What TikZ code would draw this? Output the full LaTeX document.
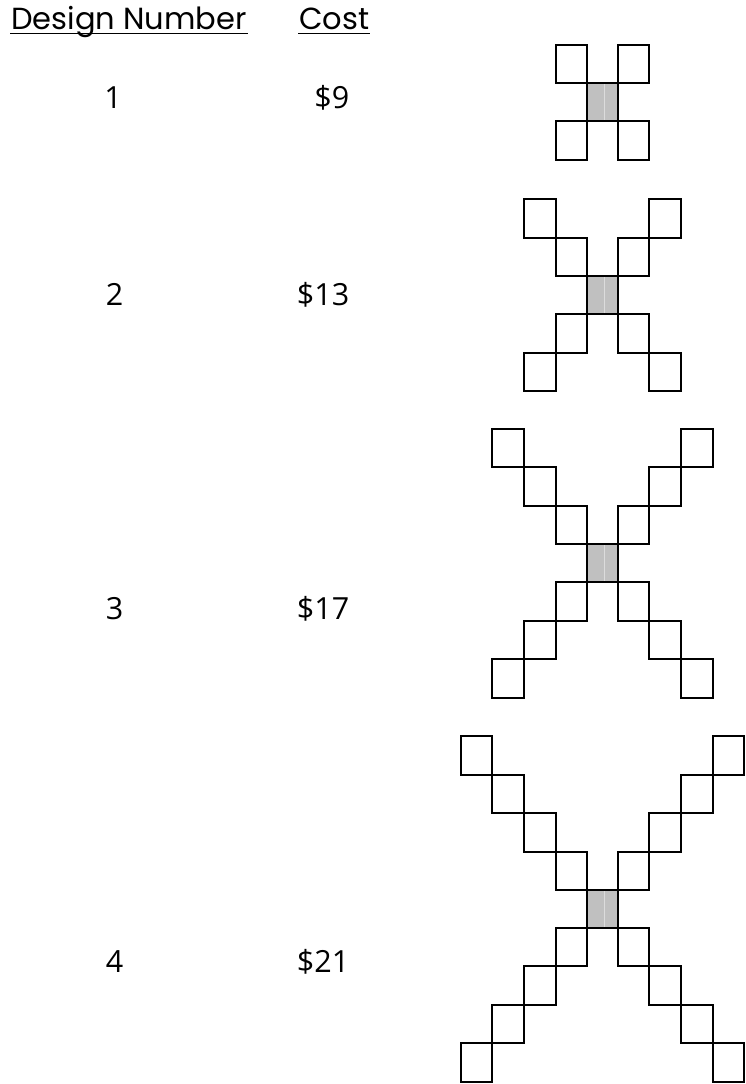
\documentclass[tikz,border=0pt]{standalone}
\usepackage{fontspec}
\setmainfont{Poppins}
\newfontfamily\numfont{Open Sans}
\usetikzlibrary{calc}
\definecolor{cellgray}{HTML}{C0C0C0}
\definecolor{seam}{HTML}{DCDCDC}
\tikzset{
  head/.style={anchor=base west, inner sep=0pt, font=\fontsize{30.5}{32}\selectfont},
  num/.style={anchor=base, inner sep=0pt, font=\numfont\fontsize{30.5}{32}\selectfont},
  cost/.style={anchor=base east, inner sep=0pt, font=\numfont\fontsize{30.5}{32}\selectfont},
  cell/.style={draw=black, line width=2pt},
}
\newcommand{\xdesign}[2]{% #1 = arms, #2 = top of centre cell
  \pgfmathsetmacro{\T}{#2}
  \pgfmathsetmacro{\B}{#2+37.7}
  \fill[cellgray] (587.3,\T) rectangle (617.7,\B);
  \draw[seam, line width=0.7pt] (604.3,\T) -- (604.3,\B);
  \draw[cell] (587.3,\T) rectangle (617.7,\B);
  \foreach \k in {1,...,#1}{
    \draw[cell] (587.3-\k*31.65,\T-\k*38.5) rectangle (587.3-\k*31.65+31.65,\T-\k*38.5+38.5);
    \draw[cell] (617.7+\k*31.6-31.6,\T-\k*38.5) rectangle (617.7+\k*31.6,\T-\k*38.5+38.5);
    \draw[cell] (587.3-\k*31.65,\B+\k*38.5-38.5) rectangle (587.3-\k*31.65+31.65,\B+\k*38.5);
    \draw[cell] (617.7+\k*31.6-31.6,\B+\k*38.5-38.5) rectangle (617.7+\k*31.6,\B+\k*38.5);
  }
}
\begin{document}
\begin{tikzpicture}[x=1pt,y=-1pt]
\useasboundingbox (0,0) rectangle (745,1084);
\fill[white] (0,0) rectangle (745,1084);
% headers
\node[head] (hdesign) at (11,29.3) {Design Number};
\node[head] (hcost) at (299,29.3) {Cost};
\draw[line width=1.1pt] ($(hdesign.base west)+(-1,3.8)$) -- ($(hdesign.base east)+(1,3.8)$);
\draw[line width=1.1pt] ($(hcost.base west)+(-1,3.8)$) -- ($(hcost.base east)+(1,3.8)$);
% numbers and costs
\node[num] (n1) at (113,108.5) {1};
\node[cost] (c1) at (349.5,108.5) {\$9};
\node[num] (n2) at (114.5,305) {2};
\node[cost] (c2) at (349.5,305) {\$13};
\node[num] (n3) at (114.5,619.3) {3};
\node[cost] (c3) at (349.5,619.3) {\$17};
\node[num] (n4) at (114.5,972.7) {4};
\node[cost] (c4) at (349.5,972.7) {\$21};
% designs
\xdesign{1}{83.3}
\xdesign{2}{276.3}
\xdesign{3}{544.3}
\xdesign{4}{890}
\end{tikzpicture}
\end{document}
